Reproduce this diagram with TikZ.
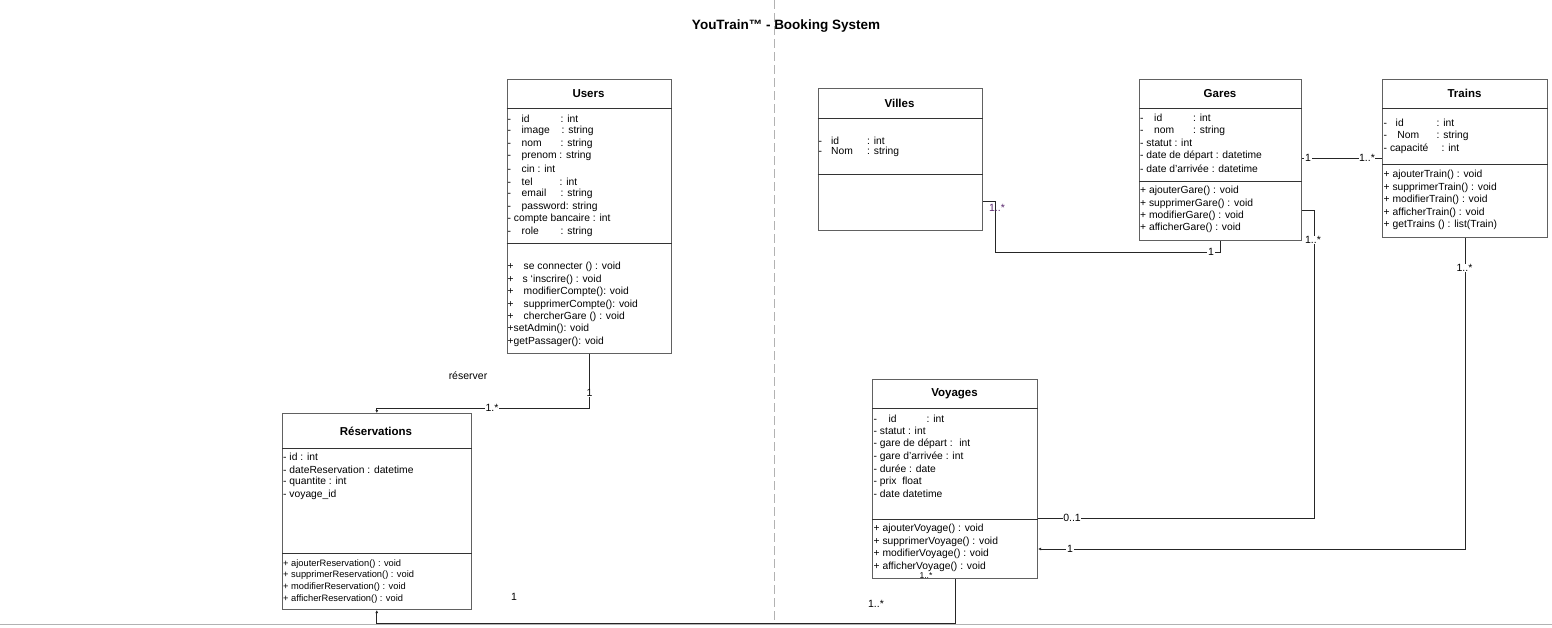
\documentclass[tikz,border=0pt]{standalone}
\usepackage{fontspec}
\setmainfont{Liberation Sans}
\usetikzlibrary{calc,arrows.meta}
\newcommand\cola[2]{\makebox[#1pt][l]{#2}}
\begin{document}
\begin{tikzpicture}[x=1pt,y=-1pt,
  cls/.style={draw=black!62, line width=1.1pt, anchor=north west, inner sep=0pt, fill=white},
  csep/.style={draw=black!80, line width=0.9pt},
  ttl/.style={inner sep=0pt, font=\fontsize{11.5}{13}\selectfont\bfseries},
  itm/.style={anchor=west, inner sep=0pt, font=\fontsize{10.3}{12}\selectfont},
  sitm/.style={anchor=west, inner sep=0pt, font=\fontsize{9.3}{11}\selectfont},
  conn/.style={draw=black!85, line width=0.9pt},
  arr/.style={-{Latex[length=3pt,width=3pt]}},
  lbl/.style={fill=white, inner sep=0.6pt, font=\fontsize{10.5}{12}\selectfont},
  nlbl/.style={inner sep=0.6pt, font=\fontsize{10.5}{12}\selectfont}]
\useasboundingbox (0,0) rectangle (1552,627);
\fill[white] (0,0) rectangle (1552,627);
% frame lines
\draw[black!30, line width=1pt, dash pattern=on 9pt off 4pt] (774,0) coordinate (dtop) -- (774,622) coordinate (dbot);
\draw[black!30, line width=1.2pt] (0,624.5) coordinate (bl) -- (1552,624.5) coordinate (br);
\node[font=\fontsize{13.5}{15}\selectfont\bfseries, inner sep=0pt] (title) at (786,26) {YouTrain™ - Booking System};

% ---------- Users
\node[cls, minimum width=164pt, minimum height=274pt] (users) at (506.5,79) {};
\draw[csep] (users.west |- 0,108) -- (users.east |- 0,108);
\draw[csep] (users.west |- 0,243) -- (users.east |- 0,243);
\node[ttl] (usersT) at (588.5,93.5) {Users};
\foreach \t [count=\i] in {
  {\cola{14}{-}\cola{39}{id}: int},
  {\cola{14}{-}\cola{40}{image}: string},
  {\cola{14}{-}\cola{39}{nom}: string},
  {\cola{14}{-}prenom : string},
  {\cola{14}{-}cin : int},
  {\cola{14}{-}\cola{38}{tel}: int},
  {\cola{14}{-}\cola{39}{email}: string},
  {\cola{14}{-}password: string},
  {- compte bancaire : int},
  {\cola{14}{-}\cola{39}{role}: string}}
  \node[itm, name=ua\i] at (507.5,{118.5+12.6*(\i-1)}) {\t};
\foreach \t [count=\i] in {
  {\cola{16}{+}se connecter () : void},
  {\cola{15}{+}s ‘inscrire() : void},
  {\cola{16}{+}modifierCompte(): void},
  {\cola{16}{+}supprimerCompte(): void},
  {\cola{16}{+}chercherGare () : void},
  {+setAdmin(): void},
  {+getPassager(): void}}
  \node[itm, name=um\i] at (507.5,{267.3+12.4*(\i-1)}) {\t};

% ---------- Reservations
\node[cls, minimum width=188.5pt, minimum height=196pt] (resa) at (282,413) {};
\draw[csep] (resa.west |- 0,448.5) -- (resa.east |- 0,448.5);
\draw[csep] (resa.west |- 0,553) -- (resa.east |- 0,553);
\node[ttl] (resaT) at (376,431) {Réservations};
\foreach \t [count=\i] in {
  {- id : int},
  {- dateReservation : datetime},
  {- quantite : int},
  {- voyage\_id}}
  \node[itm, name=ra\i] at (283,{456.7+12.7*(\i-1)}) {\t};
\foreach \t [count=\i] in {
  {+ ajouterReservation() : void},
  {+ supprimerReservation() : void},
  {+ modifierReservation() : void},
  {+ afficherReservation() : void}}
  \node[sitm, name=rm\i] at (283,{564+11.55*(\i-1)}) {\t};

% ---------- Villes
\node[cls, minimum width=164.5pt, minimum height=142pt] (villes) at (817.5,88) {};
\draw[csep] (villes.west |- 0,118) -- (villes.east |- 0,118);
\draw[csep] (villes.west |- 0,174) -- (villes.east |- 0,174);
\node[ttl] (villesT) at (899.5,103) {Villes};
\node[itm] (va1) at (818.5,140.7) {\cola{12.5}{-}\cola{36}{id}: int};
\node[itm] (va2) at (818.5,152.3) {\cola{12.5}{-}\cola{36}{Nom}: string};

% ---------- Gares
\node[cls, minimum width=162pt, minimum height=161pt] (gares) at (1139,79) {};
\draw[csep] (gares.west |- 0,108) -- (gares.east |- 0,108);
\draw[csep] (gares.west |- 0,181) -- (gares.east |- 0,181);
\node[ttl] (garesT) at (1220,93.5) {Gares};
\foreach \t [count=\i] in {
  {\cola{14}{-}\cola{39}{id}: int},
  {\cola{14}{-}\cola{39}{nom}: string},
  {- statut : int},
  {- date de départ : datetime},
  {- date d'arrivée : datetime}}
  \node[itm, name=ga\i] at (1140,{118.3+12.5*(\i-1)}) {\t};
\foreach \t [count=\i] in {
  {+ ajouterGare() : void},
  {+ supprimerGare() : void},
  {+ modifierGare() : void},
  {+ afficherGare() : void}}
  \node[itm, name=gm\i] at (1140,{191.3+12.3*(\i-1)}) {\t};

% ---------- Trains
\node[cls, minimum width=165pt, minimum height=158pt] (trains) at (1382,79) {};
\draw[csep] (trains.west |- 0,108) -- (trains.east |- 0,108);
\draw[csep] (trains.west |- 0,164) -- (trains.east |- 0,164);
\node[ttl] (trainsT) at (1464.5,93) {Trains};
\foreach \t [count=\i] in {
  {\cola{12}{-}\cola{41}{id}: int},
  {\cola{12}{-}\cola{41}{\,Nom}: string},
  {\cola{58}{- capacité}: int}}
  \node[itm, name=ta\i] at (1383.5,{123.3+12.5*(\i-1)}) {\t};
\foreach \t [count=\i] in {
  {+ ajouterTrain() : void},
  {+ supprimerTrain() : void},
  {+ modifierTrain() : void},
  {+ afficherTrain() : void},
  {+ getTrains () : list(Train)}}
  \node[itm, name=tm\i] at (1383.5,{175+12.5*(\i-1)}) {\t};

% ---------- Voyages
\node[cls, minimum width=165pt, minimum height=199pt] (voy) at (872,379) {};
\draw[csep] (voy.west |- 0,408) -- (voy.east |- 0,408);
\draw[csep] (voy.west |- 0,519) -- (voy.east |- 0,519);
\node[ttl] (voyT) at (954.5,393.5) {Voyages};
\foreach \t [count=\i] in {
  {\cola{12}{-}\cola{41}{\ id}: int},
  {- statut : int},
  {- gare de départ : \ int},
  {- gare d'arrivée : int},
  {- durée : date},
  {- prix \ float},
  {- date datetime}}
  \node[itm, name=oa\i] at (873.5,{418.6+12.6*(\i-1)}) {\t};
\foreach \t [count=\i] in {
  {+ ajouterVoyage() : void},
  {+ supprimerVoyage() : void},
  {+ modifierVoyage() : void},
  {+ afficherVoyage() : void}}
  \node[itm, name=om\i] at (873.5,{529.3+12.45*(\i-1)}) {\t};

% ---------- Connectors
% Users - Reservations
\draw[conn, arr] (users.south) |- ($(resa.north)+(0,-5)$) -- (resa.north);
\node[nlbl] (lr) at (468,376) {réserver};
\node[lbl] (l1) at (589.5,393) {1};
\node[lbl] (l2) at (492,408) {1.*};
% Voyages - Reservations
\draw[conn, arr] (voy.south) -- ++(0,44) -| (resa.south);
\node[nlbl] (l3) at (514,597) {1};
\node[nlbl] (l4) at (876,604) {1..*};
\node[nlbl, font=\fontsize{8.5}{10}\selectfont] (l4b) at (926,575.5) {1..*};
% Villes - Gares
\coordinate (vport) at ($(villes.north east)+(0,113)$);
\coordinate (vbend) at (995,252);
\draw[conn] (vport) -| (vbend) -| (gares.south);
\node[nlbl, text={rgb,255:red,90;green,40;blue,110}] (l5) at (997,208) {1..*};
\node[lbl] (l6) at (1211,252) {1};
% Gares - Trains
\draw[conn] (gares.east |- trains.west) -- (trains.west);
\node[lbl] (l7) at (1308,158) {1};
\node[lbl] (l8) at (1367,158) {1..*};
% Gares - Voyages
\coordinate (gport) at ($(gares.north east)+(0,131)$);
\coordinate (gbend) at (1314,518);
\draw[conn] (gport) -| (gbend) -- (gbend -| voy.east);
\node[lbl] (l9) at (1313,240) {1..*};
\node[lbl] (l10) at (1072,518) {0..1};
% Trains - Voyages
\draw[conn, arr] (trains.south) |- ($(voy.north east)+(0,170)$);
\node[lbl] (l11) at (1464.5,268) {1..*};
\node[lbl] (l12) at (1070,549) {1};
\end{tikzpicture}
\end{document}
